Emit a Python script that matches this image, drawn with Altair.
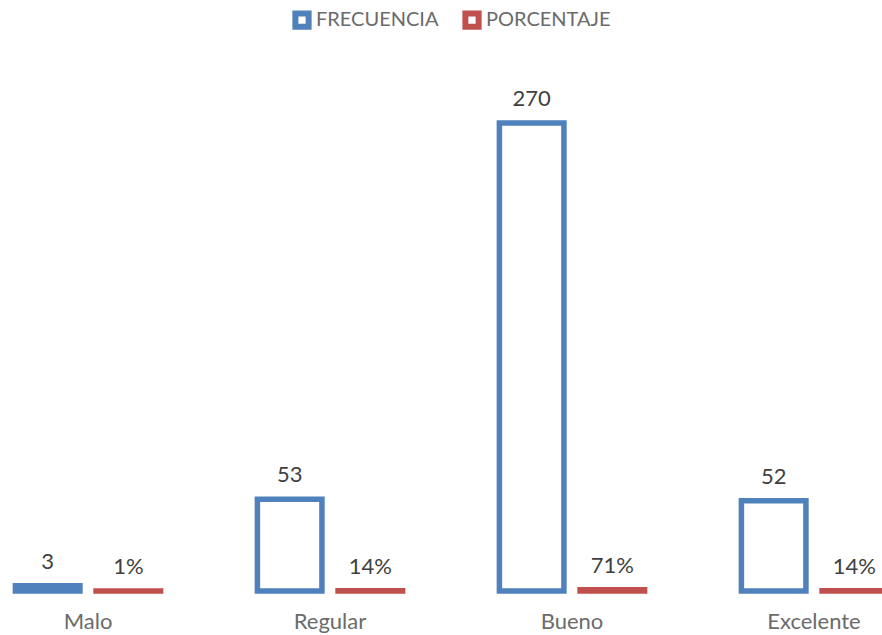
import altair as alt
import pandas as pd

categorias = ["Malo", "Regular", "Bueno", "Excelente"]
series = ["FRECUENCIA", "PORCENTAJE"]
frecuencia = [3, 53, 270, 52]
porcentaje = [0.01, 0.14, 0.71, 0.14]

BLUE = "#4F81BD"
RED = "#C0504D"
FONT = "Lato"

rows = []
for c, f, p in zip(categorias, frecuencia, porcentaje):
    rows.append({"categoria": c, "serie": series[0], "valor": f, "etiqueta": f"{f}"})
    rows.append({"categoria": c, "serie": series[1], "valor": p, "etiqueta": f"{round(p * 100)}%"})
df = pd.DataFrame(rows)

x_enc = alt.X(
    "categoria:N",
    sort=categorias,
    scale=alt.Scale(range=[-33, 935], paddingInner=0, paddingOuter=0),
    axis=alt.Axis(
        title=None, ticks=False, domain=False, labelAngle=0,
        labelFont=FONT, labelFontSize=22, labelColor="#6B6B6B", labelPadding=20,
    ),
)
xo_enc = alt.XOffset(
    "serie:N", sort=series,
    scale=alt.Scale(paddingInner=0.2, paddingOuter=0.6),
)
y_enc = alt.Y("valor:Q", scale=alt.Scale(domain=[0, 300]), axis=None)

bars = alt.Chart(df).mark_bar(fill="white", strokeWidth=5.5).encode(
    x=x_enc,
    xOffset=xo_enc,
    y=y_enc,
    stroke=alt.Stroke(
        "serie:N",
        scale=alt.Scale(domain=series, range=[BLUE, RED]),
        legend=alt.Legend(
            title=None, orient="none", direction="horizontal",
            legendX=292, legendY=-61,
            symbolType="square", symbolSize=175, symbolStrokeWidth=6,
            symbolFillColor="white", labelFont=FONT, labelFontSize=20,
            labelColor="#6B6B6B", labelOffset=4, columnPadding=14,
        ),
    ),
)

labels = alt.Chart(df).mark_text(
    font=FONT, fontSize=22, color="#404040", baseline="alphabetic", dy=-17
).encode(
    x=x_enc,
    xOffset=xo_enc,
    y=y_enc,
    text="etiqueta:N",
)

chart = (
    alt.layer(bars, labels)
    .properties(
        width=882, height=520,
        autosize=alt.AutoSizeParams(type="none"),
        padding={"left": 0, "top": 71, "right": 0, "bottom": 44},
    )
    .configure_view(stroke=None)
)

chart.save("out.html", embed_options={"renderer": "svg", "actions": False})
